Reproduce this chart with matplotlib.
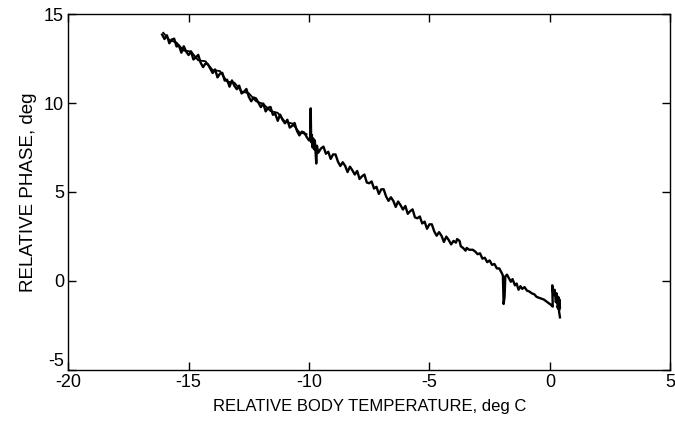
import matplotlib
matplotlib.use("Agg")
import matplotlib.pyplot as plt

plt.rcParams['font.family'] = ['Liberation Sans', 'DejaVu Sans']
plt.rcParams['axes.unicode_minus'] = False

# Main trace: relative body temperature (deg C) vs relative phase (deg)
temp_main = [-16.1, -16.0, -15.9, -15.8, -15.7, -15.6, -15.5, -15.4, -15.3, -15.2,
             -15.1, -15.0, -14.9, -14.8, -14.7, -14.6, -14.5, -14.4, -14.3, -14.2,
             -14.1, -14.0, -13.9, -13.8, -13.7, -13.6, -13.5, -13.4, -13.3, -13.2,
             -13.1, -13.0, -12.9, -12.8, -12.7, -12.6, -12.5, -12.4, -12.3, -12.2,
             -12.1, -12.0, -11.9, -11.8, -11.7, -11.6, -11.5, -11.4, -11.3, -11.2,
             -11.1, -11.0, -10.9, -10.8, -10.7, -10.6, -10.5, -10.4, -10.3, -10.2,
             -10.1, -10.0,
             -9.95, -9.93, -9.91, -9.88, -9.85, -9.82, -9.79, -9.76, -9.73, -9.70,
             -9.67, -9.62,
             -9.5, -9.4, -9.3, -9.2, -9.1, -9.0, -8.9, -8.8, -8.7, -8.6,
             -8.5, -8.4, -8.3, -8.2, -8.1, -8.0, -7.9, -7.8, -7.7, -7.6,
             -7.5, -7.4, -7.3, -7.2, -7.1, -7.0, -6.9, -6.8, -6.7, -6.6,
             -6.5, -6.4, -6.3, -6.2, -6.1, -6.0, -5.9, -5.8, -5.7, -5.6,
             -5.5, -5.4, -5.3, -5.2, -5.1, -5.0, -4.9, -4.8, -4.7, -4.6,
             -4.5, -4.4, -4.3, -4.2, -4.1, -4.0,
             -3.90, -3.85, -3.75, -3.70, -3.60, -3.50, -3.45, -3.35, -3.20, -3.10,
             -3.00, -2.90, -2.80, -2.70, -2.60, -2.50, -2.40, -2.30, -2.20, -2.10,
             -2.00, -1.95, -1.92, -1.88, -1.85, -1.78, -1.70, -1.62, -1.55, -1.45,
             -1.38, -1.30, -1.22, -1.15, -1.05, -0.95, -0.85, -0.75, -0.65, -0.55,
             -0.45, -0.35, -0.25, -0.15, -0.05, 0.05, 0.12, 0.10, 0.15, 0.20,
             0.25, 0.28, 0.32, 0.35, 0.38, 0.30, 0.36, 0.40, 0.42, 0.38,
             0.42]
phase_main = [13.85, 13.60, 13.81, 13.36, 13.57, 13.62, 13.18, 13.23, 12.83, 13.19,
              12.89, 12.70, 12.90, 12.45, 12.56, 12.71, 12.27, 12.02, 12.22, 12.18,
              11.93, 11.69, 11.89, 11.44, 11.65, 11.70, 11.26, 11.31, 10.92, 11.27,
              10.97, 10.78, 10.98, 10.54, 10.64, 10.79, 10.35, 10.10, 10.31, 10.26,
              10.01, 9.77, 9.97, 9.53, 9.73, 9.78, 9.34, 9.39, 9.00, 9.35,
              9.06, 8.86, 9.06, 8.62, 8.72, 8.88, 8.43, 8.18, 8.39, 8.34,
              8.10, 7.90,
              7.90, 9.70, 7.80, 8.20, 7.50, 8.00, 7.40, 7.90, 7.30, 6.60,
              7.60, 7.20,
              7.45, 7.55, 7.15, 7.26, 6.86, 7.11, 7.11, 6.71, 6.46, 6.67,
              6.47, 6.12, 6.42, 6.22, 5.98, 6.18, 5.73, 5.88, 5.98, 5.53,
              5.49, 5.59, 5.19, 5.29, 4.89, 5.15, 5.15, 4.75, 4.50, 4.70,
              4.50, 4.16, 4.46, 4.26, 4.01, 4.21, 3.77, 3.92, 4.02, 3.57,
              3.52, 3.62, 3.23, 3.33, 2.93, 3.18, 3.18, 2.78, 2.54, 2.74,
              2.54, 2.19, 2.49, 2.30, 2.05, 2.25,
              2.15, 2.35, 2.25, 1.95, 1.85, 1.70, 1.85, 1.75, 1.75, 1.65,
              1.50, 1.55, 1.25, 1.30, 1.05, 1.15, 0.90, 0.95, 0.70, 0.70,
              0.45, 0.30, -1.30, -0.90, 0.25, 0.35, 0.15, -0.05, 0.10, -0.25,
              -0.15, -0.50, -0.30, -0.45, -0.35, -0.55, -0.60, -0.70, -0.75, -0.90,
              -0.95, -1.00, -1.05, -1.15, -1.25, -1.35, -1.45, -0.25, -0.80, -0.50,
              -1.20, -0.70, -1.30, -0.90, -1.20, -1.45, -1.60, -1.05, -1.50, -1.70,
              -2.05]

# Second overlapping trace at the cold end
temp_second = [-16.05, -15.80, -15.50, -15.20, -14.90, -14.60, -14.30, -14.00, -13.70, -13.40,
               -13.10, -12.80, -12.50, -12.20, -11.90, -11.60, -11.30, -11.00, -10.70, -10.40,
               -10.10]
phase_second = [13.95, 13.55, 13.40, 12.95, 12.90, 12.40, 12.35, 11.85, 11.80, 11.20,
                11.15, 10.65, 10.55, 10.10, 9.95, 9.55, 9.45, 8.95, 8.85, 8.35,
                8.25]

x_ticks = [-20, -15, -10, -5, 0, 5]
y_ticks = [-5, 0, 5, 10, 15]

fig = plt.figure(figsize=(6.75, 4.28), dpi=100)
ax = fig.add_axes([0.101, 0.136, 0.892, 0.831])

ax.plot(temp_second, phase_second, color='black', lw=1.3)
ax.plot(temp_main, phase_main, color='black', lw=1.7)

ax.set_xlim(-20, 5)
ax.set_ylim(-5, 15)
ax.set_xticks(x_ticks)
ax.set_yticks(y_ticks)
ax.tick_params(direction='in', length=6, width=1, top=True, right=True,
               labelsize=13, colors='black', pad=3)
for s in ax.spines.values():
    s.set_linewidth(1.0)

# lowest y tick label sits just above the axis corner, as in the original
ax.get_yticklabels()[0].set_verticalalignment('bottom')

ax.set_xlabel('RELATIVE BODY TEMPERATURE, deg C', fontsize=12, labelpad=6)
ax.set_ylabel('RELATIVE PHASE, deg', fontsize=13.5, labelpad=5)

fig.savefig('out.png', dpi=100)
